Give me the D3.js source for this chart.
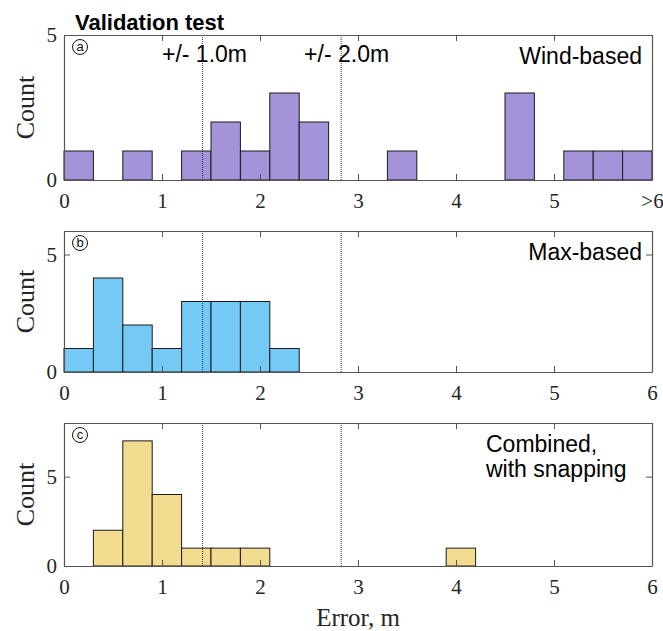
<!DOCTYPE html>
<html>
<head>
<meta charset="utf-8">
<script src="https://cdn.jsdelivr.net/npm/d3@7"></script>
<style>
  body { margin: 0; background: #fff; }
</style>
</head>
<body>
<script>
// Histogram bins (0.3 m wide) and counts
const binStarts = [0, 0.3, 0.6, 0.9, 1.2, 1.5, 1.8, 2.1, 2.4, 2.7, 3.0, 3.3, 3.6, 3.9, 4.2, 4.5, 4.8, 5.1, 5.4, 5.7];
const binWidth = 0.3;
const windCounts     = [1, 0, 1, 0, 1, 2, 1, 3, 2, 0, 0, 1, 0, 0, 0, 3, 0, 1, 1, 1];
const maxCounts      = [1, 4, 2, 1, 3, 3, 3, 1, 0, 0, 0, 0, 0, 0, 0, 0, 0, 0, 0, 0];
const combinedCounts = [0, 2, 7, 4, 1, 1, 1, 0, 0, 0, 0, 0, 0, 1, 0, 0, 0, 0, 0, 0];

const xTicks = [0, 1, 2, 3, 4, 5, 6];
const xTickLabelsTop = ["0", "1", "2", "3", "4", "5", ">6"];
const thresholds = [Math.SQRT2, 2 * Math.SQRT2]; // dotted lines
const yTicks = [0, 5];

const width = 663, height = 631;
const left = 64, right = 652;
const sansFont = "Arial, 'Liberation Sans', sans-serif";
const serifFont = "'Liberation Serif', 'Times New Roman', serif";
const axisColor = "#555";
const textColor = "#262626";

const panels = [
  { id: "a", counts: windCounts, color: "#a493d9", top: 35, bottom: 180, yMax: 5,
    tickLabels: xTickLabelsTop, label: ["Wind-based"], labelAnchor: "end" },
  { id: "b", counts: maxCounts, color: "#74caf4", top: 231, bottom: 372, yMax: 6,
    tickLabels: xTicks.map(String), label: ["Max-based"], labelAnchor: "end" },
  { id: "c", counts: combinedCounts, color: "#f2dc8f", top: 423, bottom: 566, yMax: 8,
    tickLabels: xTicks.map(String), label: ["Combined,", "with snapping"], labelAnchor: "start" }
];

const svg = d3.select("body").append("svg")
  .attr("width", width)
  .attr("height", height);

const x = d3.scaleLinear().domain([0, 6]).range([left, right]);

panels.forEach(p => {
  const y = d3.scaleLinear().domain([0, p.yMax]).range([p.bottom, p.top]);
  const g = svg.append("g").attr("class", "panel-" + p.id);

  // bars
  g.append("g")
    .selectAll("rect")
    .data(binStarts.map((s, i) => ({ x0: s, x1: s + binWidth, n: p.counts[i] })).filter(d => d.n > 0))
    .join("rect")
    .attr("x", d => x(d.x0))
    .attr("y", d => y(d.n))
    .attr("width", d => x(d.x1) - x(d.x0))
    .attr("height", d => y(0) - y(d.n))
    .attr("fill", p.color)
    .attr("stroke", "#1a1a1a")
    .attr("stroke-width", 1);

  // dotted threshold lines
  g.append("g")
    .selectAll("line")
    .data(thresholds)
    .join("line")
    .attr("x1", d => x(d)).attr("x2", d => x(d))
    .attr("y1", p.top).attr("y2", p.bottom)
    .attr("stroke", "#333")
    .attr("stroke-width", 1)
    .attr("stroke-dasharray", "1,1");

  // axes (inward ticks, box style)
  const bottomAxis = g.append("g")
    .attr("transform", `translate(0,${p.bottom})`)
    .call(d3.axisBottom(x).tickValues(xTicks).tickSizeInner(-6).tickSizeOuter(0).tickPadding(13)
      .tickFormat((d, i) => p.tickLabels[i]));
  const topAxis = g.append("g")
    .attr("transform", `translate(0,${p.top})`)
    .call(d3.axisTop(x).tickValues(xTicks).tickSizeInner(-6).tickSizeOuter(0).tickFormat(""));
  const leftAxis = g.append("g")
    .attr("transform", `translate(${left},0)`)
    .call(d3.axisLeft(y).tickValues(yTicks).tickSizeInner(-6).tickSizeOuter(0).tickPadding(7)
      .tickFormat(d3.format("d")));
  const rightAxis = g.append("g")
    .attr("transform", `translate(${right},0)`)
    .call(d3.axisRight(y).tickValues(yTicks).tickSizeInner(-6).tickSizeOuter(0).tickFormat(""));

  [bottomAxis, topAxis, leftAxis, rightAxis].forEach(a => {
    a.selectAll("path.domain").attr("stroke", axisColor).attr("stroke-width", 1.2);
    a.selectAll(".tick line").attr("stroke", axisColor);
    a.selectAll(".tick text")
      .attr("fill", textColor)
      .attr("font-family", serifFont)
      .attr("font-size", "21px");
  });

  // y label
  g.append("text")
    .attr("transform", `translate(25,${(p.top + p.bottom) / 2}) rotate(-90)`)
    .attr("text-anchor", "middle")
    .attr("dy", "0.35em")
    .attr("font-family", serifFont)
    .attr("font-size", "26px")
    .attr("fill", textColor)
    .text("Count");

  // circled panel letter
  const badge = g.append("g").attr("transform", `translate(${left + 16},${p.top + 12})`);
  badge.append("circle").attr("r", 7.5).attr("fill", "none").attr("stroke", "#111").attr("stroke-width", 1);
  badge.append("text")
    .attr("text-anchor", "middle")
    .attr("dy", "0.34em")
    .attr("font-family", sansFont)
    .attr("font-size", "13px")
    .attr("fill", "#111")
    .text(p.id);

  // method label
  const lx = p.labelAnchor === "end" ? 642 : 486;
  g.append("text")
    .attr("x", lx)
    .attr("y", p.top + 29)
    .attr("text-anchor", p.labelAnchor)
    .attr("font-family", sansFont)
    .attr("font-size", "23px")
    .attr("fill", "#000")
    .selectAll("tspan")
    .data(p.label)
    .join("tspan")
    .attr("x", lx)
    .attr("dy", (d, i) => i === 0 ? 0 : 25)
    .text(d => d);
});

// threshold labels in top panel
svg.append("g")
  .selectAll("text")
  .data([{ at: 1.0, t: "+/- 1.0m" }, { at: 2.45, t: "+/- 2.0m" }])
  .join("text")
  .attr("x", d => x(d.at))
  .attr("y", 62)
  .attr("font-family", sansFont)
  .attr("font-size", "23px")
  .attr("fill", "#000")
  .text(d => d.t);

// title
svg.append("text")
  .attr("x", 75)
  .attr("y", 30)
  .attr("font-family", sansFont)
  .attr("font-size", "22px")
  .attr("font-weight", "bold")
  .attr("fill", "#000")
  .text("Validation test");

// x axis label
svg.append("text")
  .attr("x", (left + right) / 2)
  .attr("y", 626)
  .attr("text-anchor", "middle")
  .attr("font-family", serifFont)
  .attr("font-size", "25px")
  .attr("fill", textColor)
  .text("Error, m");
</script>
</body>
</html>
